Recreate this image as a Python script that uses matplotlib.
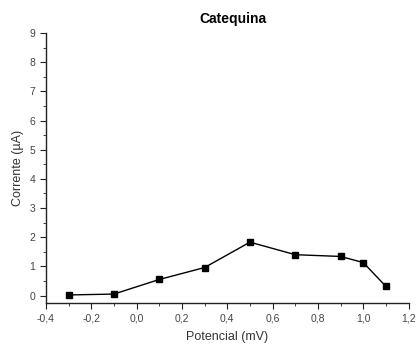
import matplotlib
matplotlib.use("Agg")
import matplotlib.pyplot as plt
from matplotlib.ticker import MultipleLocator, FuncFormatter

plt.rcParams['font.family'] = ['Liberation Sans', 'DejaVu Sans']

potencial = [-0.3, -0.1, 0.1, 0.3, 0.5, 0.7, 0.9, 1.0, 1.1]
corrente = [0.02, 0.05, 0.55, 0.96, 1.83, 1.40, 1.34, 1.13, 0.31]

fig = plt.figure(figsize=(4.17, 3.44), dpi=100)
ax = fig.add_axes([0.110, 0.118, 0.870, 0.786])

ax.plot(potencial, corrente, color='black', lw=1.0, marker='s', ms=4.5,
        markerfacecolor='black', markeredgecolor='black')

ax.set_xlim(-0.4, 1.2)
ax.set_ylim(-0.27, 9)
ax.xaxis.set_major_locator(MultipleLocator(0.2))
ax.xaxis.set_minor_locator(MultipleLocator(0.1))
ax.yaxis.set_major_locator(MultipleLocator(1))
ax.yaxis.set_minor_locator(MultipleLocator(0.5))
ax.xaxis.set_major_formatter(FuncFormatter(lambda v, p: f"{v:.1f}".replace('.', ',').replace('-0,0', '0,0')))
ax.yaxis.set_major_formatter(FuncFormatter(lambda v, p: f"{v:.0f}"))

for s in ['top', 'right']:
    ax.spines[s].set_visible(False)
for s in ['left', 'bottom']:
    ax.spines[s].set_linewidth(1.0)
    ax.spines[s].set_color('#222222')

ax.tick_params(which='major', direction='out', length=4, width=0.8, labelsize=7.5, colors='#222222', labelcolor='#444444')
ax.tick_params(which='minor', direction='out', length=2, width=0.6, colors='#222222')

ax.set_xlabel('Potencial (mV)', fontsize=9, color='#333333', labelpad=5)
ax.set_ylabel('Corrente (\u00b5A)', fontsize=9, color='#333333', labelpad=4)
ax.set_title('Catequina', fontsize=10, fontweight='bold', pad=7, x=0.515)

fig.savefig('out.png', dpi=100, facecolor='white')
